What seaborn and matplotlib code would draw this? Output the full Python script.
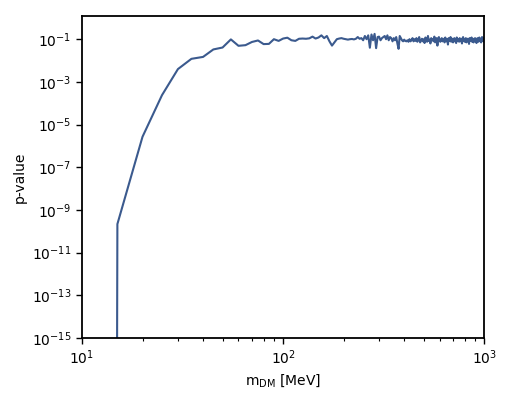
import numpy as np
import pandas as pd
import matplotlib
matplotlib.use("Agg")
import matplotlib.pyplot as plt
import matplotlib.ticker as mticker
import seaborn as sns

# Dark matter mass grid [MeV]
masses = [14.9] + list(range(15, 1001, 5))

# log10(p-value) (first point lies below the axis)
log_p_start = [-20.0]
log_p_rise = [-9.66, -5.57, -3.62, -2.40, -1.92, -1.83, -1.48, -1.39, -1.01, -1.31,
              -1.28, -1.13, -1.06, -1.23, -1.22, -1.00, -1.08, -0.97]
log_p_mid = [-0.93, -1.05, -1.08, -0.98, -0.97, -0.98, -0.96, -0.88, -0.97, -0.92,
             -0.82, -0.95, -0.85, -1.10, -1.30, -1.15, -1.00, -0.97, -0.95, -0.98]
log_p_plateau = [-1.00, -1.02, -1.00, -0.99, -1.01, -0.98, -0.90, -0.98, -0.95, -1.05,
                 -0.85, -1.00, -0.82, -1.40, -0.78, -1.05, -0.75, -1.42, -0.90, -0.88,
                 -1.05, -0.95, -0.90, -0.85, -1.00, -0.82, -1.05, -0.90, -0.95, -1.10,
                 -0.95, -1.05, -0.90, -1.20, -1.45, -0.85, -0.95, -1.05, -1.10, -1.02,
                 -1.08, -1.10, -1.05, -1.12, -1.00, -1.10, -1.05, -0.95, -1.10, -1.00]
log_p_tail = [-1.08, -0.95, -1.12, -1.02, -0.90, -1.15, -1.05, -0.98, -1.10, -1.00,
              -1.18, -0.92, -1.05, -1.12, -0.85, -1.08, -1.02, -1.20, -0.95, -1.05,
              -1.00, -1.10, -0.88, -1.15, -1.05, -0.95, -1.30, -1.00, -0.90, -1.08,
              -1.12, -1.02, -0.95, -1.10, -1.05, -0.98, -1.15, -0.92, -1.05, -1.10,
              -1.00, -1.25, -0.95, -1.05, -1.08, -0.90, -1.12, -1.02, -0.98, -1.15,
              -1.05, -0.95, -1.10, -1.00, -1.18, -0.92, -1.05, -1.08, -1.00, -1.12,
              -0.95, -1.05, -1.10, -0.98, -1.20, -1.02, -0.90, -1.08, -1.05, -1.12,
              -1.00, -0.95, -1.15, -1.05, -0.98, -1.10, -1.02, -1.22, -0.95, -1.05,
              -1.08, -1.00, -0.92, -1.12, -1.05, -0.98, -1.15, -1.02, -1.08, -0.95,
              -1.10, -1.00, -1.18, -1.05, -0.95, -1.08, -1.12, -1.00, -0.92, -1.05,
              -1.10, -0.98, -1.15, -1.02, -0.90, -1.08, -1.05, -0.95, -1.12, -1.00]

y_tick_exps = [-15, -13, -11, -9, -7, -5, -3, -1]

log_p = log_p_start + log_p_rise + log_p_mid + log_p_plateau + log_p_tail
df = pd.DataFrame({"m": masses, "p": 10.0 ** np.array(log_p)})

sns.set_style("ticks", {"axes.edgecolor": "black", "xtick.color": "black",
                        "ytick.color": "black", "text.color": "black",
                        "axes.labelcolor": "black"})
plt.rcParams["font.family"] = ["DejaVu Sans"]

fig = plt.figure(figsize=(5.06, 3.94), dpi=100)
ax = fig.add_axes([0.162, 0.142, 0.795, 0.817])
sns.lineplot(data=df, x="m", y="p", ax=ax, color="#3b5a8e", linewidth=1.5,
             estimator=None, sort=False)
ax.set_xscale("log")
ax.set_yscale("log")
ax.set_xlim(10, 1000)
ax.set_ylim(1e-15, 1.2)
ax.set_yticks([10.0 ** e for e in y_tick_exps])
ax.yaxis.set_minor_locator(mticker.NullLocator())
ax.set_xlabel(r"m$_{\rm DM}$ [MeV]", fontsize=10)
ax.set_ylabel("p-value", fontsize=10)
ax.tick_params(axis="both", which="major", labelsize=10, length=4, width=1)
ax.tick_params(axis="x", which="minor", length=2.5, width=0.8)
for s in ax.spines.values():
    s.set_linewidth(1.3)
    s.set_color("black")
fig.savefig("out.png", dpi=100)
